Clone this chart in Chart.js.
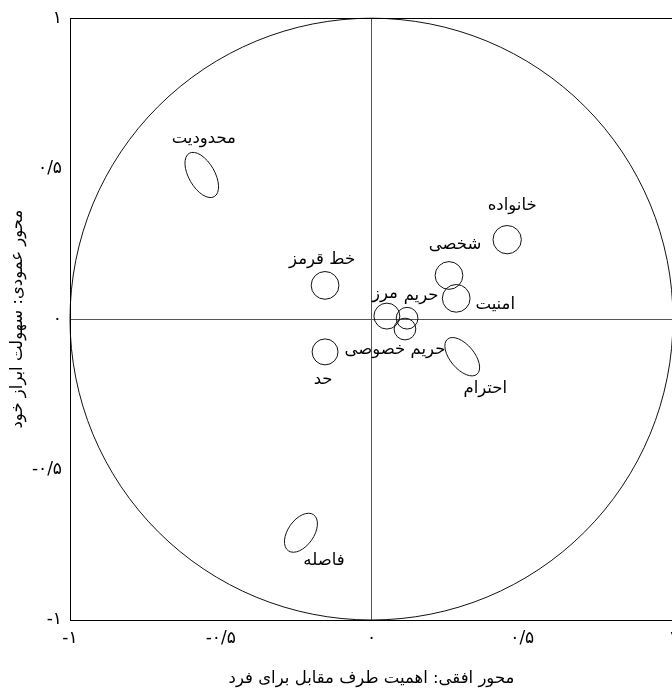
<!DOCTYPE html>
<html>
<head>
<meta charset="utf-8">
<script src="https://cdn.jsdelivr.net/npm/chart.js@4"></script>
<style>
  html, body { margin: 0; padding: 0; background: #fff; overflow: hidden; }
</style>
</head>
<body>
<canvas id="chart" width="700" height="690"></canvas>
<script>
// concepts placed on the two axes
const concepts = ['محدودیت', 'خانواده', 'شخصی', 'امنیت', 'خط قرمز', 'مرز', 'حریم', 'حریم خصوصی', 'حد', 'احترام', 'فاصله'];
// horizontal: importance of the other party for the person
const importance = [-0.563, 0.450, 0.257, 0.281, -0.154, 0.051, 0.118, 0.111, -0.154, 0.301, -0.234];
// vertical: ease of self-expression
const easeOfExpression = [0.479, 0.264, 0.145, 0.069, 0.112, 0.010, 0.003, -0.033, -0.109, -0.125, -0.710];
// spread around each point (data units) and its tilt
const spreadMajor = [0.083, 0.047, 0.046, 0.046, 0.046, 0.043, 0.036, 0.036, 0.043, 0.076, 0.073];
const spreadMinor = [0.043, 0.047, 0.046, 0.046, 0.046, 0.043, 0.036, 0.036, 0.043, 0.040, 0.043];
const tiltDeg = [60, 0, 0, 0, 0, 0, 0, 0, 0, 50, -55];

const tickValues = [-1, -0.5, 0, 0.5, 1];
const tickLabels = ['-۱', '-۰/۵', '۰', '۰/۵', '۱'];

const xTitle = 'محور افقی: اهمیت طرف مقابل برای فرد';
const yTitle = 'محور عمودی: سهولت ابراز خود';

// label placement relative to each mark, in pixels
const labelOffsets = [[2, -36], [5, -34], [6, -31], [39, 6], [-3, -26], [-2, -22], [14, -22], [-10, 21], [-2, 28], [23, 32], [23, 28]];

const FONT = "'DejaVu Sans', sans-serif";

const points = importance.map((x, i) => ({ x: x, y: easeOfExpression[i] }));

/**
 * Draws frame, unit circle, ellipses and their labels
 */
const biplotPlugin = {
    id: 'biplot',
    beforeDatasetsDraw(chart) {
        const { ctx, chartArea: a, scales: { x, y } } = chart;
        ctx.save();
        ctx.strokeStyle = '#111';
        ctx.lineWidth = 1;
        // unit circle
        const cx = x.getPixelForValue(0);
        const cy = y.getPixelForValue(0);
        const rx = x.getPixelForValue(1) - cx;
        const ry = cy - y.getPixelForValue(1);
        ctx.beginPath();
        ctx.ellipse(cx, cy, rx, ry, 0, 0, Math.PI * 2);
        ctx.stroke();
        // frame
        ctx.strokeStyle = '#000';
        ctx.strokeRect(Math.round(a.left) + 0.5, Math.round(a.top) + 0.5, Math.round(a.right - a.left), Math.round(a.bottom - a.top));
        ctx.restore();
    },
    afterDatasetsDraw(chart) {
        const { ctx, scales: { x, y } } = chart;
        const unit = x.getPixelForValue(1) - x.getPixelForValue(0);
        ctx.save();
        ctx.strokeStyle = '#111';
        ctx.lineWidth = 1;
        points.forEach((p, i) => {
            const px = x.getPixelForValue(p.x);
            const py = y.getPixelForValue(p.y);
            ctx.beginPath();
            ctx.ellipse(px, py, spreadMajor[i] * unit, spreadMinor[i] * unit, tiltDeg[i] * Math.PI / 180, 0, Math.PI * 2);
            ctx.stroke();
        });
        ctx.fillStyle = '#000';
        ctx.font = '16.5px ' + FONT;
        ctx.textAlign = 'center';
        ctx.textBaseline = 'middle';
        points.forEach((p, i) => {
            const px = x.getPixelForValue(p.x);
            const py = y.getPixelForValue(p.y);
            ctx.fillText(concepts[i], px + labelOffsets[i][0], py + labelOffsets[i][1]);
        });
        ctx.restore();
    }
};

const axisOptions = (title, isX) => ({
    type: 'linear',
    min: -1,
    max: 1,
    afterBuildTicks: axis => { axis.ticks = tickValues.map(v => ({ value: v })); },
    afterFit: axis => {
        if (isX) axis.height = 70; else axis.width = 70;
    },
    border: { display: false },
    grid: {
        drawTicks: false,
        lineWidth: 1,
        color: c => (c.tick && c.tick.value === 0 ? '#555' : 'transparent')
    },
    ticks: {
        padding: 8,
        color: '#000',
        font: { family: FONT, size: 17 },
        maxRotation: 0,
        callback: v => tickLabels[tickValues.indexOf(v)]
    },
    title: {
        display: true,
        text: title,
        color: '#000',
        font: { family: FONT, size: 16.5 },
        padding: isX ? { top: 4, bottom: 1 } : { top: 8, bottom: 0 }
    }
});

const chart = new Chart(document.getElementById('chart').getContext('2d'), {
    type: 'scatter',
    data: {
        datasets: [{
            data: points,
            pointRadius: 0,
            pointHoverRadius: 0
        }]
    },
    options: {
        responsive: false,
        animation: false,
        devicePixelRatio: 1,
        layout: { padding: { left: 0, top: 14, right: 27, bottom: 0 } },
        plugins: { legend: { display: false }, tooltip: { enabled: false } },
        scales: {
            x: axisOptions(xTitle, true),
            y: axisOptions(yTitle, false)
        }
    },
    plugins: [biplotPlugin]
});
</script>
</body>
</html>
